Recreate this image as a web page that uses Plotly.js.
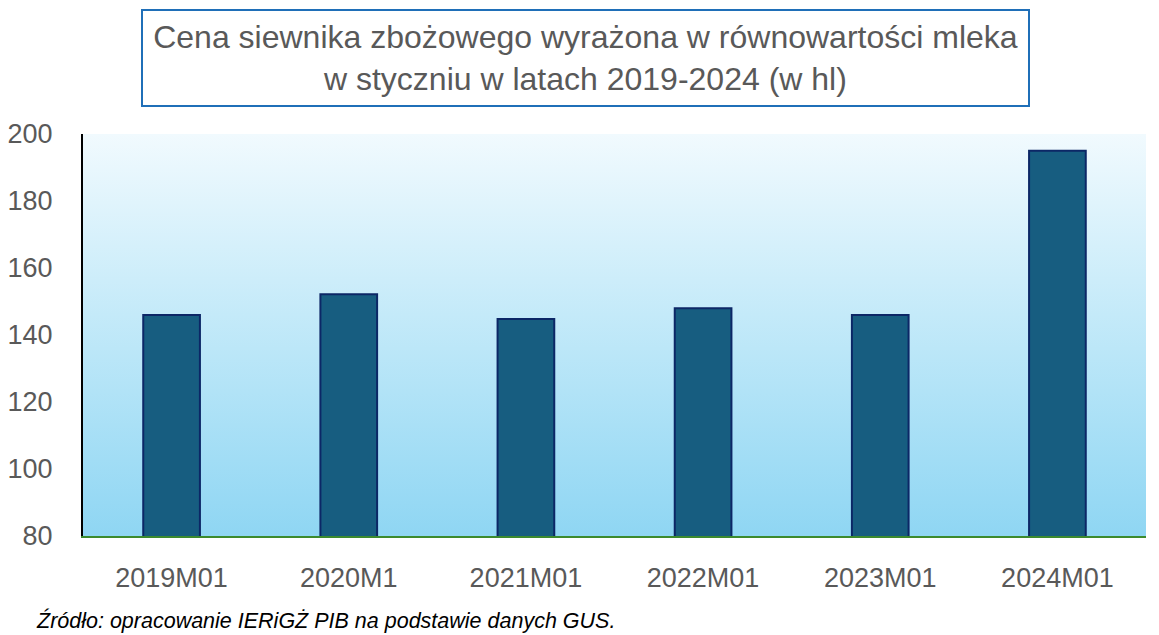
<!DOCTYPE html>
<html>
<head>
<meta charset="utf-8">
<script src="https://cdn.plot.ly/plotly-3.0.1.min.js"></script>
<style>
  html, body { margin: 0; padding: 0; background: #ffffff; }
  #wrap { position: relative; width: 1159px; height: 635px; }
  #bg { position: absolute; left: 83px; top: 134px; width: 1063px; height: 402px;
        background: linear-gradient(to bottom, #f1fafe 0%, #c4eaf9 45%, #8fd6f3 100%); }
  #chart { position: absolute; left: 0; top: 0; width: 1159px; height: 635px; }
</style>
</head>
<body>
<div id="wrap">
  <div id="bg"></div>
  <div id="chart"></div>
</div>
<script>
const categories = ["2019M01", "2020M1", "2021M01", "2022M01", "2023M01", "2024M01"];
const values = [146, 152.2, 144.8, 148, 146, 195];
const yTicks = [80, 100, 120, 140, 160, 180, 200];
const titleText = "Cena siewnika zbożowego wyrażona w równowartości mleka<br>w styczniu w latach 2019-2024 (w hl)";
const sourceText = "Źródło: opracowanie IERiGŻ PIB na podstawie danych GUS.";

const font = "Liberation Sans, Arial, sans-serif";

const trace = {
  type: "bar",
  x: categories,
  y: values,
  marker: { color: "#175d80", line: { color: "#0c2766", width: 2 } },
  hoverinfo: "x+y"
};

const layout = {
  width: 1159,
  height: 635,
  margin: { l: 83, r: 13, t: 134, b: 99 },
  paper_bgcolor: "rgba(0,0,0,0)",
  plot_bgcolor: "rgba(0,0,0,0)",
  showlegend: false,
  bargap: 0.68,
  font: { family: font, color: "#595959" },
  xaxis: {
    type: "category",
    showline: true,
    linecolor: "#3c8a2e",
    linewidth: 2,
    showgrid: false,
    zeroline: false,
    ticks: "",
    ticklabelstandoff: 17,
    tickfont: { size: 27, color: "#595959", family: font }
  },
  yaxis: {
    range: [80, 200],
    tickvals: yTicks,
    ticktext: yTicks.map(String),
    showline: true,
    linecolor: "#000000",
    linewidth: 2,
    showgrid: false,
    zeroline: false,
    ticks: "",
    ticklabelstandoff: 23,
    tickfont: { size: 27, color: "#595959", family: font }
  },
  annotations: [
    {
      text: titleText,
      xref: "paper", yref: "paper",
      x: 0.4727, y: 1.189,
      xanchor: "center", yanchor: "middle",
      showarrow: false,
      font: { size: 32, color: "#595959", family: font },
      bordercolor: "#1f6fb8",
      borderwidth: 2,
      borderpad: 5,
      width: 875,
      height: 84,
      bgcolor: "#ffffff"
    },
    {
      text: "<i>" + sourceText + "</i>",
      xref: "paper", yref: "paper",
      x: -0.0461, y: -0.2095,
      xanchor: "left", yanchor: "middle",
      showarrow: false,
      font: { size: 21.5, color: "#000000", family: font }
    }
  ]
};

Plotly.newPlot("chart", [trace], layout, { displayModeBar: false, staticPlot: true });
</script>
</body>
</html>
